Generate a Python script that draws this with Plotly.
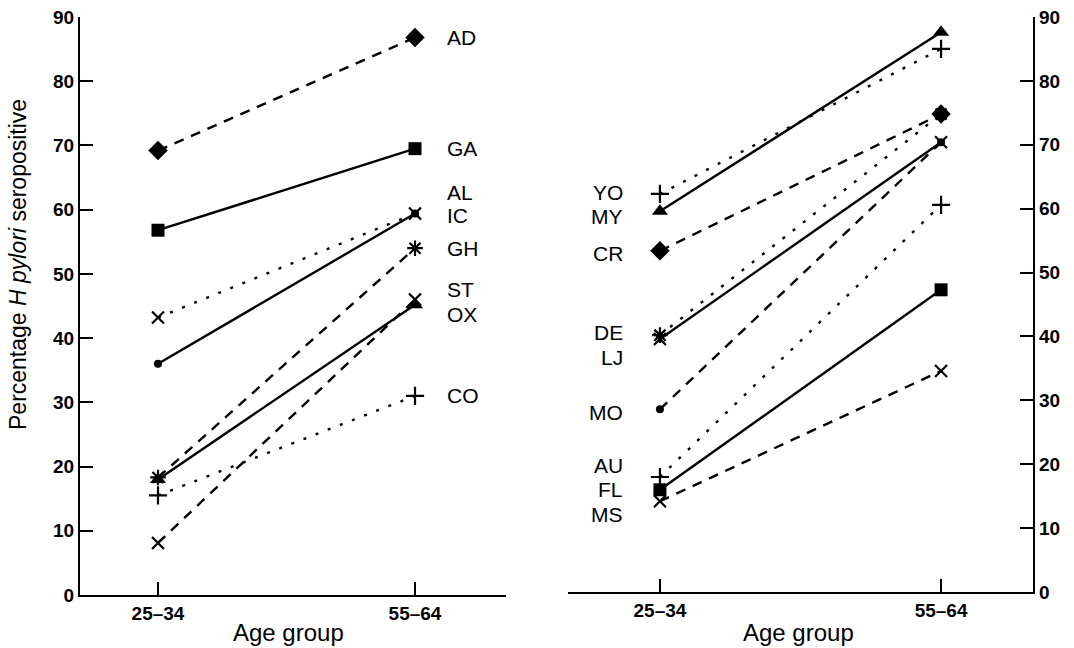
import plotly.graph_objects as go

# ---------------- data ----------------
age_groups = ["25–34", "55–64"]

left_codes = ["AD", "GA", "AL", "IC", "GH", "ST", "OX", "CO"]
left_young = [69.2, 56.8, 36.0, 43.2, 18.3, 8.1, 18.0, 15.5]
left_old = [86.8, 69.5, 59.4, 59.4, 54.0, 46.0, 45.2, 31.0]

right_codes = ["YO", "MY", "CR", "DE", "LJ", "MO", "AU", "FL", "MS"]
right_young = [62.3, 59.6, 53.4, 40.2, 39.6, 28.6, 18.0, 16.0, 14.2]
right_old = [85.0, 87.6, 74.8, 74.8, 70.4, 70.4, 60.6, 47.3, 34.6]

y_ticks = [0, 10, 20, 30, 40, 50, 60, 70, 80, 90]

# ---------------- styles ----------------
left_line = ["dash", "solid", "solid", "dot", "dash", "dash", "solid", "dot"]
left_sym = ["diamond", "square", "circle", "x-thin", "asterisk", "x-thin", "triangle-up", "cross-thin"]
left_shift = [0, 0, 21, -2, 0, 10, -10, 0]

right_line = ["dot", "solid", "dash", "dot", "solid", "dash", "dot", "solid", "dash"]
right_sym = ["cross-thin", "triangle-up", "diamond", "asterisk", "x-thin", "circle", "cross-thin", "square", "x-thin"]
right_shift = [1, -5, -3, 3, -18, -3, 12, 0, -13]

FONT = "Liberation Sans, Arial, sans-serif"
DASHES = {"solid": "solid", "dash": "10px,8px", "dot": "3px,10px"}
SIZES = {"diamond": 15, "square": 13, "circle": 8, "x-thin": 12,
         "asterisk": 13, "triangle-up": 14, "cross-thin": 13}
OPEN = {"x-thin", "asterisk", "cross-thin"}

fig = go.Figure()


def add_series(codes, young, old, lines, syms, xa, ya):
    for c, y0, y1, ls, sym in zip(codes, young, old, lines, syms):
        marker = dict(symbol=sym, size=SIZES[sym], color="black")
        if sym in OPEN:
            marker["line"] = dict(width=2.2, color="black")
        else:
            marker["line"] = dict(width=0)
        fig.add_trace(go.Scatter(
            x=[0, 1], y=[y0, y1], mode="lines+markers", name=c,
            line=dict(color="black", width=2.4, dash=DASHES[ls]),
            marker=marker, xaxis=xa, yaxis=ya, showlegend=False,
            hoverinfo="name+y"))


add_series(left_codes, left_young, left_old, left_line, left_sym, "x", "y")
add_series(right_codes, right_young, right_old, right_line, right_sym, "x2", "y2")

W, H = 1074, 648
annotations = []
for c, y1, s in zip(left_codes, left_old, left_shift):
    annotations.append(dict(x=1, y=y1, xref="x", yref="y", text=c, showarrow=False,
                            xanchor="left", yanchor="middle", xshift=30, yshift=s,
                            font=dict(family=FONT, size=21, color="black")))
for c, y0, s in zip(right_codes, right_young, right_shift):
    annotations.append(dict(x=0, y=y0, xref="x2", yref="y2", text=c, showarrow=False,
                            xanchor="right", yanchor="middle", xshift=-35, yshift=s,
                            font=dict(family=FONT, size=21, color="black")))

annotations.append(dict(x=18 / W, y=(H - 265) / H, xref="paper", yref="paper",
                        text="Percentage <i>H pylori</i> seropositive", textangle=-90,
                        showarrow=False, xanchor="center", yanchor="middle",
                        font=dict(family=FONT, size=23, color="black")))
for cx in (288, 798):
    annotations.append(dict(x=cx / W, y=(H - 632) / H, xref="paper", yref="paper",
                            text="Age group", showarrow=False, xanchor="center",
                            yanchor="middle", font=dict(family=FONT, size=24, color="black")))

axis_common = dict(showgrid=False, zeroline=False, showline=True, linecolor="black",
                   linewidth=2.2, ticks="inside", ticklen=13, tickwidth=2, tickcolor="black",
                   automargin=False,
                   tickfont=dict(family=FONT, size=19, color="black", weight="bold"))

fig.update_layout(
    width=W, height=H, autosize=False,
    margin=dict(l=0, r=0, t=0, b=0, autoexpand=False),
    plot_bgcolor="white", paper_bgcolor="white",
    xaxis=dict(domain=[80 / W, 506 / W], range=[-0.3035, 1.354], tickvals=[0, 1],
               ticktext=age_groups, anchor="y", **axis_common),
    yaxis=dict(domain=[(H - 595) / H, (H - 17) / H], range=[0, 90], tickvals=y_ticks,
               anchor="x", side="left", **axis_common),
    xaxis2=dict(domain=[568 / W, 1033 / W], range=[-0.327, 1.327], tickvals=[0, 1],
                ticktext=age_groups, anchor="y2", **axis_common),
    yaxis2=dict(domain=[(H - 592) / H, (H - 17) / H], range=[0, 90], tickvals=y_ticks,
                anchor="x2", side="right", **axis_common),
    annotations=annotations,
)

fig.write_html(
    "out.html",
    config={"displayModeBar": False},
    post_script="document.body.style.margin='0';document.body.style.overflow='hidden';",
)
